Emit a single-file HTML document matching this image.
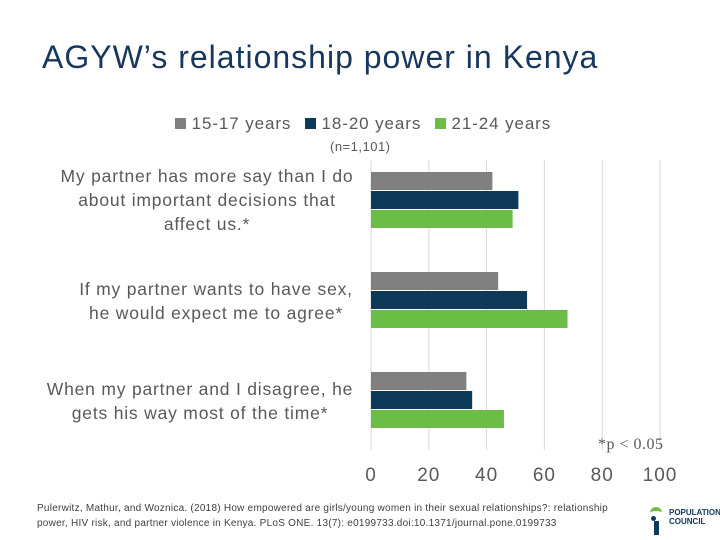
<!DOCTYPE html>
<html><head><meta charset="utf-8"><style>
body{margin:0;width:720px;height:540px;background:#fff;font-family:"Liberation Sans",sans-serif;overflow:hidden;position:relative}
.t{position:absolute;white-space:nowrap}
.cl{position:absolute;font-size:17.5px;color:#595959;text-align:center;line-height:24px;white-space:nowrap;letter-spacing:0.8px;transform:translateX(-50%)}
</style></head><body>
<div class="t" style="left:42px;top:39px;font-size:32px;color:#17375e;letter-spacing:1px">AGYW’s relationship power in Kenya</div>
<div class="t" style="left:175px;top:114px;font-size:17px;color:#595959;letter-spacing:0.9px">
<span><span style="display:inline-block;width:11px;height:11px;background:#808080"></span> 15-17 years</span>
<span style="margin-left:8px"><span style="display:inline-block;width:11px;height:11px;background:#0e3a5a"></span> 18-20 years</span>
<span style="margin-left:8px"><span style="display:inline-block;width:11px;height:11px;background:#6cbd45"></span> 21-24 years</span>
</div>
<div class="t" style="left:330px;top:139px;font-size:13px;color:#595959;letter-spacing:0.5px">(n=1,101)</div>
<div class="cl" style="left:207px;top:164px">My partner has more say than I do<br>about important decisions that<br>affect us.*</div>
<div class="cl" style="left:216px;top:277px">If my partner wants to have sex,<br>he would expect me to agree*</div>
<div class="cl" style="left:200px;top:377px">When my partner and I disagree, he<br>gets his way most of the time*</div>
<svg id="c" width="720" height="540" style="position:absolute;left:0;top:0"></svg>
<div class="t" style="left:598px;top:436px;font-size:16px;color:#595959;font-family:'Liberation Serif',serif;letter-spacing:0.5px">*p &lt; 0.05</div>
<div class="t" style="left:37px;top:501px;font-size:10px;color:#404040;line-height:15px;letter-spacing:0.25px">Pulerwitz, Mathur, and Woznica. (2018) How empowered are girls/young women in their sexual relationships?: relationship<br>power, HIV risk, and partner violence in Kenya. PLoS ONE. 13(7): e0199733.doi:10.1371/journal.pone.0199733</div>
<div style="position:absolute;left:650px;top:507px">
<div style="position:absolute;left:0;top:0;width:12px;height:6px;border-top:4px solid #6cbd45;border-radius:8px 8px 0 0"></div>
<div style="position:absolute;left:1px;top:9px;width:5px;height:5px;border-radius:50%;background:#0e3a5a"></div>
<div style="position:absolute;left:4px;top:14px;width:5px;height:14px;background:#0e3a5a"></div>
<div class="t" style="left:19px;top:1px;font-size:8px;font-weight:bold;color:#0e3a5a;line-height:9px">POPULATION<br>COUNCIL</div>
</div>
<script>
const categories=["cat1","cat2","cat3"];
const s1517=[42,44,33];
const s1820=[51,54,35];
const s2124=[49,68,46];
const ticks=[0,20,40,60,80,100];
const svg=document.getElementById('c');const NS='http://www.w3.org/2000/svg';
const x=v=>371+v*2.89;
const groupTop=i=>172+i*100;
function el(t,a){const e=document.createElementNS(NS,t);for(const k in a)e.setAttribute(k,a[k]);svg.appendChild(e);return e;}
ticks.forEach(t=>{const l=el('line',{x1:x(t),x2:x(t),y1:160,y2:450,stroke:'#d9d9d9','stroke-width':1});


const tx=el('text',{x:x(t),y:481,'text-anchor':'middle','font-size':19,fill:'#595959','font-family':'Liberation Sans','letter-spacing':'1px'});tx.textContent=t;

});
const series=[[s1517,'#808080'],[s1820,'#0e3a5a'],[s2124,'#6cbd45']];
categories.forEach((c,i)=>{series.forEach(([d,col],j)=>{const r=el('rect',{x:x(0),y:groupTop(i)+j*19,width:x(d[i])-x(0),height:18,fill:col});

});});
</script>
</body></html>
